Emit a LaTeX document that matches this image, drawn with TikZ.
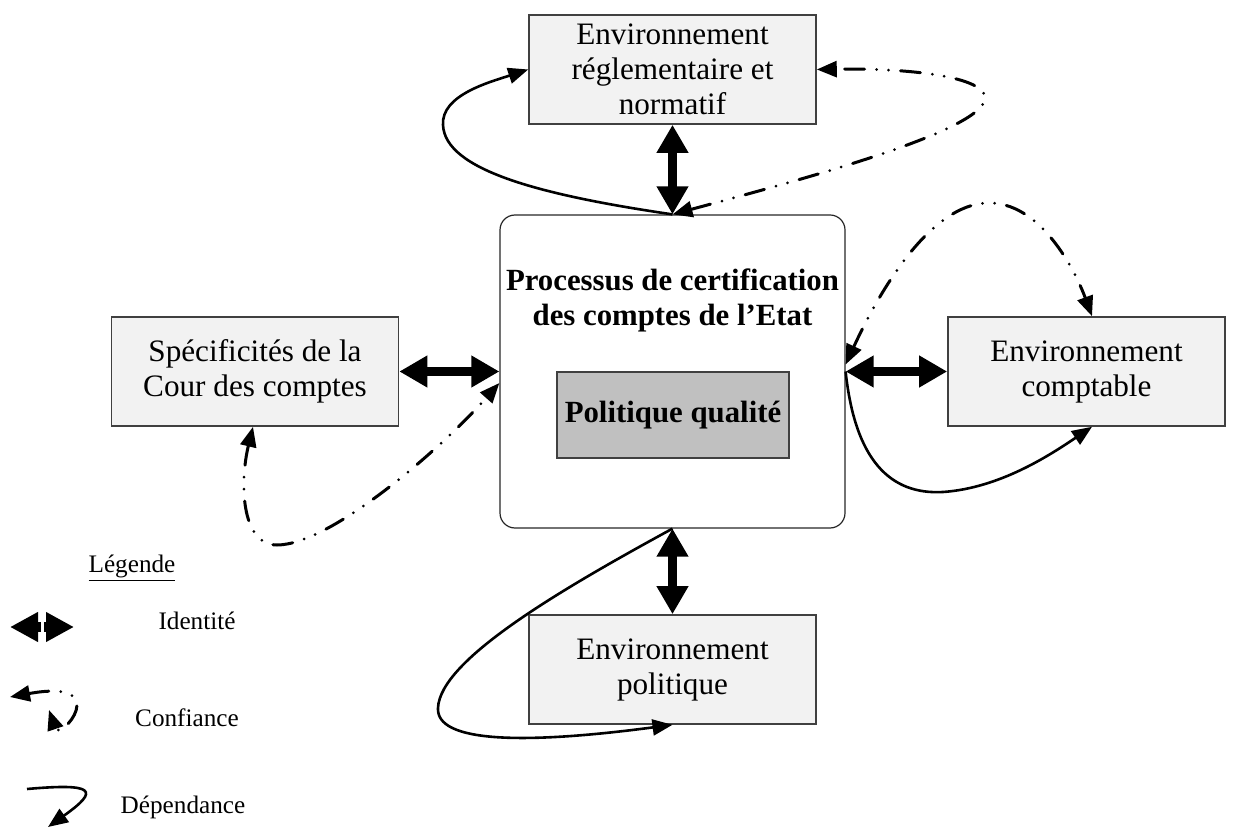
\documentclass[tikz,border=0pt]{standalone}
\usepackage{fontspec}
\setmainfont{Liberation Serif}
\usetikzlibrary{arrows.meta}
\definecolor{boxfill}{HTML}{F2F2F2}
\definecolor{innerfill}{HTML}{C0C0C0}
\definecolor{boxline}{HTML}{404040}
\begin{document}
\begin{tikzpicture}[x=0.5pt,y=-0.5pt,
  bigfont/.style={font=\fontsize{15.6}{17.5}\selectfont},
  envbox/.style={draw=boxline, line width=0.8pt, fill=boxfill, inner sep=0pt,
    minimum width=143.5pt, minimum height=54.5pt, align=center, bigfont},
  mainbox/.style={draw=black!85, line width=0.6pt, rounded corners=7.5pt,
    minimum width=172.5pt, minimum height=156.5pt, inner sep=0pt},
  innerbox/.style={draw=boxline, line width=0.8pt, fill=innerfill, inner sep=0pt,
    minimum width=116pt, minimum height=43pt, font=\fontsize{15.4}{17.5}\selectfont\bfseries},
  titletext/.style={align=center, font=\fontsize{15.4}{17.5}\selectfont\bfseries, inner sep=0pt},
  legendtext/.style={font=\fontsize{12.6}{15}\selectfont, inner sep=0pt},
  identite/.style={line width=4.5pt, arrows={Triangle[length=14pt,width=15pt]-Triangle[length=14pt,width=15pt]}},
  legid/.style={line width=5pt, arrows={-Triangle[length=14pt,width=14pt]}},
  dep/.style={line width=1.3pt, arrows={-Triangle[length=10pt,width=8pt]}},
  conf/.style={line width=1.5pt, line cap=round,
    dash pattern=on 10pt off 6pt on 0pt off 6pt on 0pt off 6pt,
    arrows={Triangle[length=10pt,width=8pt]-Triangle[length=10pt,width=8pt]}}
]
\useasboundingbox (0,0) rectangle (1237,828);

% boxes
\node[mainbox] (main) at (672.5,371.5) {};
\node[titletext] (title) at (672.5,300) {Processus de certification\\des comptes de l’Etat};
\node[innerbox] (pq) at (673,415) {Politique qualité};
\node[envbox] (top) at (672.5,69.5) {Environnement\\réglementaire et\\normatif};
\node[envbox] (left) at (255,371.5) {Spécificités de la\\Cour des comptes};
\node[envbox, minimum width=138.5pt] (right) at (1086.5,371.5) {Environnement\\comptable};
\node[envbox] (bottom) at (672.5,669.5) {Environnement\\politique};

% identite
\draw[identite] (top.south) -- (main.north);
\draw[identite] (left.east) -- (main.west);
\draw[identite] (main.east) -- (right.west);
\draw[identite] (main.south) -- (bottom.north);

% dependance
\draw[dep] (main.north) .. controls (540,195) and (445,170) .. (443,125)
  .. controls (441,95) and (490,82) .. (top.west);
\draw[dep] (main.east) .. controls (855,460) and (890,495) .. (943,492)
  .. controls (1000,488) and (1050,455) .. ([xshift=2.75pt]right.south);
\draw[dep] (main.south) .. controls (560,590) and (440,660) .. (438,708)
  .. controls (436,742) and (520,745) .. (bottom.south);

% confiance
\draw[conf] (main.north) .. controls (800,180) and (988,130) .. (985,97)
  .. controls (982,75) and (900,68) .. (top.east);
\draw[conf] ([yshift=3.5pt]main.east) .. controls (880,290) and (930,205) .. (987,203)
  .. controls (1040,201) and (1075,270) .. ([xshift=2.75pt]right.north);
\draw[conf] ([xshift=-1pt]left.south) .. controls (240,480) and (240,545) .. (277,545)
  .. controls (330,545) and (440,450) .. ([yshift=-5.75pt]main.west);

% legend
\node[legendtext] (leg) at (132,568) {\underline{Légende}};
\node[legendtext] (lid) at (197,621) {Identité};
\node[legendtext] (lconf) at (187,718) {Confiance};
\node[legendtext] (ldep) at (183,807) {Dépendance};

\coordinate (ida) at (10,627);
\coordinate (idm1) at (41,627);
\coordinate (idm2) at (44,627);
\coordinate (idb) at (74,627);
\draw[legid] (idm1) -- (ida);
\draw[legid] (idm2) -- (idb);

\coordinate (c1) at (10,697);
\coordinate (c2) at (49,710);
\draw[conf] (c1) .. controls (115,678) and (60,742) .. (c2);

\coordinate (d1) at (27,789);
\coordinate (d2) at (48,827);
\draw[dep] (d1) .. controls (95,783) and (100,790) .. (d2);
\end{tikzpicture}
\end{document}
